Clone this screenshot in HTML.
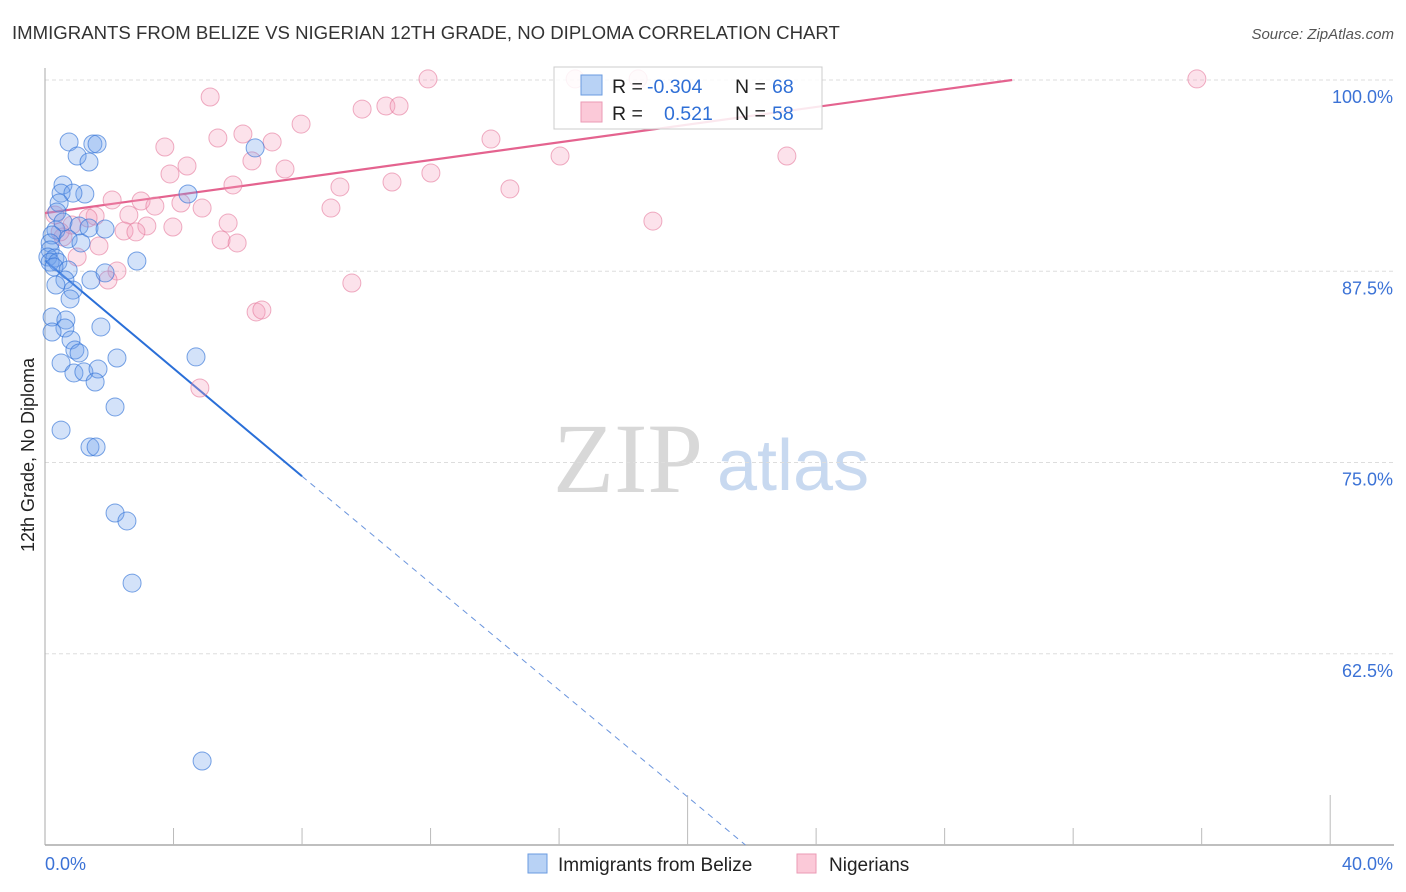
<!DOCTYPE html>
<html><head><meta charset="utf-8"><style>
body{margin:0;background:#fff;font-family:"Liberation Sans",sans-serif;}
#wrap{position:relative;width:1406px;height:892px;overflow:hidden;}
</style></head><body>
<div id="wrap">
<svg id="svg" width="1406" height="892" xmlns="http://www.w3.org/2000/svg">
<text x="12" y="39" font-size="18.6" fill="#333">IMMIGRANTS FROM BELIZE VS NIGERIAN 12TH GRADE, NO DIPLOMA CORRELATION CHART</text>
<text x="1394" y="39" font-size="15" fill="#555" font-style="italic" text-anchor="end">Source: ZipAtlas.com</text>
<text x="34" y="455" font-size="18" fill="#222" text-anchor="middle" transform="rotate(-90 34 455)">12th Grade, No Diploma</text>
<g>
<text x="553" y="492" font-size="100" fill="#d8d8d8" font-family="Liberation Serif,serif">ZIP</text>
<text x="717" y="490" font-size="72" fill="#c8d9f0">atlas</text>
</g>
<g id="grid"></g>
<g id="axes"></g>
<g id="lines"></g>
<g id="pts"></g>
<g>
<rect x="554" y="67" width="268" height="62" fill="#fff" fill-opacity="0.85" stroke="#ccc"/>
<rect x="581" y="75" width="21" height="20" fill="#b8d2f5" stroke="#6a9be0"/>
<rect x="581" y="102" width="21" height="20" fill="#fbc9d8" stroke="#eb9ab5"/>
<text font-size="19.5" y="93"><tspan x="612" fill="#222">R = </tspan><tspan x="647" fill="#2f6fd6">-0.304</tspan><tspan x="735" fill="#222">N = </tspan><tspan x="772" fill="#2f6fd6">68</tspan></text>
<text font-size="19.5" y="120"><tspan x="612" fill="#222">R = </tspan><tspan x="664" fill="#2f6fd6">0.521</tspan><tspan x="735" fill="#222">N = </tspan><tspan x="772" fill="#2f6fd6">58</tspan></text>
</g>
<g>
<rect x="528" y="854" width="19" height="19" fill="#b8d2f5" stroke="#6a9be0"/>
<text x="558" y="871" font-size="19" fill="#222">Immigrants from Belize</text>
<rect x="797" y="854" width="19" height="19" fill="#fbc9d8" stroke="#eb9ab5"/>
<text x="829" y="871" font-size="19" fill="#222">Nigerians</text>
</g>
</svg>
</div>
<script>
const yTicks=[100,87.5,75,62.5];
const yTickLabels=["100.0%","87.5%","75.0%","62.5%"];
const xTicks=[0,4,8,12,16,20,24,28,32,36,40];
const belizeX=[0.75,1.49,1.62,1.00,1.37,6.54,0.56,0.50,1.24,0.87,4.45,0.44,0.37,0.34,0.56,1.06,1.37,1.87,0.22,0.72,1.12,0.16,0.16,0.09,0.31,0.16,0.40,0.28,2.86,0.72,0.62,1.43,1.87,0.34,0.87,0.78,0.22,0.65,0.62,1.74,0.22,0.81,0.93,1.06,0.50,2.24,4.70,0.90,1.21,1.65,1.56,2.18,0.50,1.40,1.59,2.18,2.55,2.71,4.89];
const belizeY=[95.95,95.82,95.82,95.03,94.64,95.56,93.14,92.61,92.55,92.61,92.55,91.96,91.37,90.20,90.72,90.46,90.33,90.26,89.87,89.61,89.35,89.35,88.89,88.43,88.37,88.10,88.10,87.78,88.17,87.58,86.93,86.93,87.39,86.60,86.27,85.69,84.51,84.31,83.79,83.86,83.53,83.01,82.35,82.16,81.50,81.83,81.90,80.85,80.92,81.11,80.26,78.63,77.12,76.01,76.01,71.70,71.18,67.12,55.49];
const nigerX=[11.92,16.50,18.46,35.85,5.14,9.87,10.61,11.02,7.97,5.38,6.16,7.07,13.88,3.73,4.42,6.44,7.47,16.03,23.09,5.85,9.18,10.80,12.01,14.47,3.89,2.09,2.99,3.42,4.23,4.89,8.90,2.61,1.56,0.31,5.70,18.92,3.17,3.98,2.46,2.83,5.48,5.98,1.68,0.56,1.00,2.24,1.96,9.55,6.57,6.75,4.82,0.84,0.47,1.34];
const nigerY=[100.07,100.07,100.07,100.07,98.89,98.10,98.30,98.30,97.12,96.21,96.47,95.95,96.14,95.62,94.38,94.71,94.18,95.03,95.03,93.14,93.01,93.33,93.92,92.88,93.86,92.16,92.09,91.76,91.96,91.63,91.63,91.18,91.11,91.18,90.65,90.78,90.46,90.39,90.13,90.07,89.54,89.35,89.15,89.74,88.43,87.52,86.93,86.73,84.84,84.97,79.87,90.52,90.07,90.98];
const belizeTrendX=[0,8,21.8];
const belizeTrendY=[88.2,74.1,50];
const nigerTrendX=[0,30.1];
const nigerTrendY=[91.3,100];

const NS="http://www.w3.org/2000/svg";
function sx(v){return 45+v*32.13;}
function sy(v){return 80+(100-v)*15.3;}
function mk(tag,attrs,parent){const e=document.createElementNS(NS,tag);for(const k in attrs)e.setAttribute(k,attrs[k]);parent.appendChild(e);return e;}
const grid=document.getElementById('grid'),axes=document.getElementById('axes'),lines=document.getElementById('lines'),pts=document.getElementById('pts');
yTicks.forEach((t,i)=>{
 const l=mk('line',{x1:45,x2:1394,y1:sy(t),y2:sy(t),stroke:'#ddd','stroke-dasharray':'4,3'},grid);
 
 
 const tx=mk('text',{x:1393,y:sy(t)+23,'font-size':18,fill:'#3b72d6','text-anchor':'end'},grid);
 tx.textContent=yTickLabels[i];
 
 
});
const ya=mk('line',{x1:45,x2:45,y1:68,y2:845,stroke:'#aaa'},axes);


const xa=mk('line',{x1:45,x2:1394,y1:845,y2:845,stroke:'#aaa','stroke-width':1.5},axes);


xTicks.forEach((t,i)=>{
 if(i===0)return;
 const big=(t===20||t===40);
 const tk=mk('line',{x1:sx(t),x2:sx(t),y1:big?795:828,y2:845,stroke:'#bbb'},axes);
 
 
});
const xl0=mk('text',{x:45,y:870,'font-size':18,fill:'#3b72d6'},axes);xl0.textContent='0.0%';


const xl1=mk('text',{x:1393,y:870,'font-size':18,fill:'#3b72d6','text-anchor':'end'},axes);xl1.textContent='40.0%';



function dot(x,y,fill,stroke,name){
 const c=mk('circle',{cx:sx(x),cy:sy(y),r:9,fill:fill,stroke:stroke,'stroke-width':1},pts);
 
 
}
nigerX.forEach((x,i)=>dot(x,nigerY[i],'rgba(244,160,188,0.3)','rgba(228,120,155,0.6)','nigerian-point'));
belizeX.forEach((x,i)=>dot(x,belizeY[i],'rgba(110,160,235,0.3)','rgba(50,115,215,0.65)','belize-point'));

const b1=mk('line',{x1:sx(belizeTrendX[0]),y1:sy(belizeTrendY[0]),x2:sx(belizeTrendX[1]),y2:sy(belizeTrendY[1]),stroke:'#2a6fd8','stroke-width':2},lines);


const b2=mk('line',{x1:sx(belizeTrendX[1]),y1:sy(belizeTrendY[1]),x2:sx(belizeTrendX[2]),y2:sy(belizeTrendY[2]),stroke:'#6b95dd','stroke-width':1,'stroke-dasharray':'6,5'},lines);


const n1=mk('line',{x1:sx(nigerTrendX[0]),y1:sy(nigerTrendY[0]),x2:sx(nigerTrendX[1]),y2:sy(nigerTrendY[1]),stroke:'#e4638f','stroke-width':2.2},lines);


</script>
</body></html>
